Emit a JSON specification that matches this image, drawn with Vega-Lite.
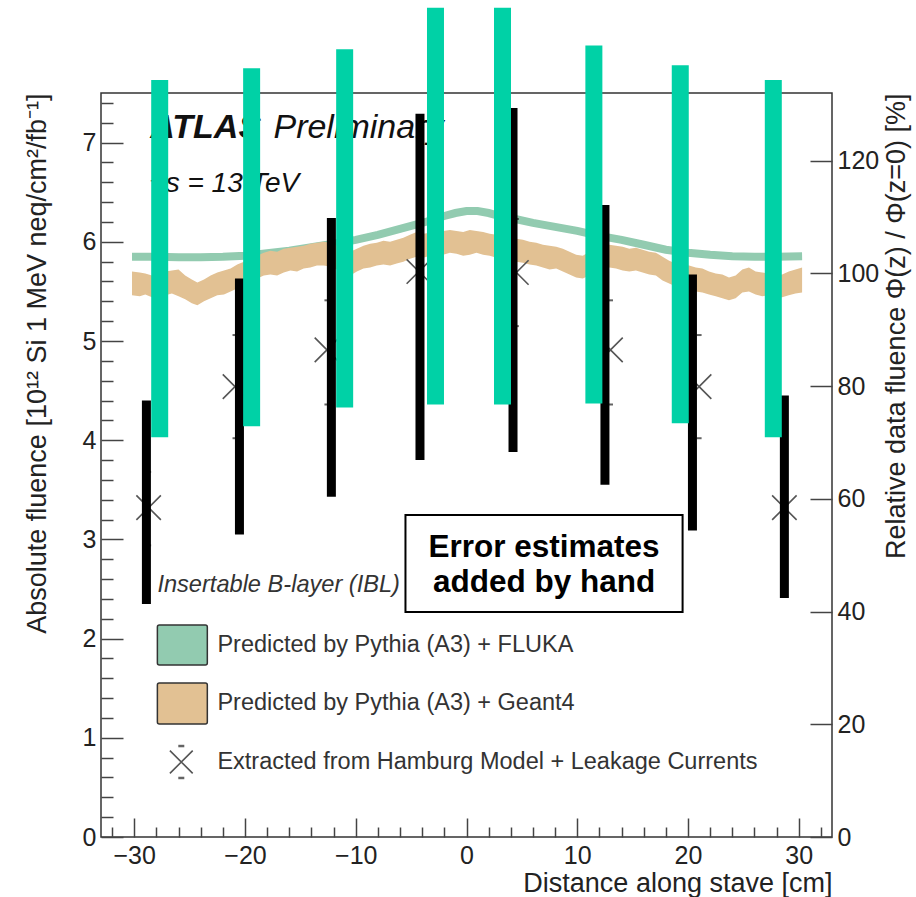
{
  "$schema": "https://vega.github.io/schema/vega-lite/v6.json",
  "width": 731,
  "height": 744,
  "autosize": {"type": "none"},
  "padding": {"left": 101, "top": 93, "right": 84, "bottom": 60},
  "background": "white",
  "config": {
    "view": {"stroke": "#333", "strokeWidth": 1.5},
    "font": "Liberation Sans",
    "axis": {"labelFont": "Liberation Sans", "titleFont": "Liberation Sans", "labelColor": "#222", "titleColor": "#222", "titleFontWeight": "normal", "grid": false, "domain": false, "tickColor": "#444", "tickWidth": 1.5, "labelOverlap": false, "labelFlush": false}
  },
  "datasets": {
    "fluka": [
      {"z": -30.2, "f": 5.85}, {"z": -28, "f": 5.85}, {"z": -26, "f": 5.845}, {"z": -24, "f": 5.845}, {"z": -22, "f": 5.85}, {"z": -20, "f": 5.86}, {"z": -18, "f": 5.885}, {"z": -16, "f": 5.91}, {"z": -14, "f": 5.945}, {"z": -12, "f": 5.98}, {"z": -10, "f": 6.02}, {"z": -8, "f": 6.07}, {"z": -6, "f": 6.13}, {"z": -4, "f": 6.19}, {"z": -2, "f": 6.26}, {"z": -1, "f": 6.29}, {"z": 0, "f": 6.31}, {"z": 1, "f": 6.31}, {"z": 2, "f": 6.29}, {"z": 3, "f": 6.26}, {"z": 4, "f": 6.24}, {"z": 6, "f": 6.19}, {"z": 8, "f": 6.15}, {"z": 10, "f": 6.11}, {"z": 12, "f": 6.06}, {"z": 14, "f": 6.02}, {"z": 16, "f": 5.97}, {"z": 18, "f": 5.92}, {"z": 20, "f": 5.89}, {"z": 22, "f": 5.87}, {"z": 24, "f": 5.855}, {"z": 26, "f": 5.85}, {"z": 28, "f": 5.85}, {"z": 30.3, "f": 5.855}
    ],
    "geant": [
      {"z": -30.2, "lo": 5.46, "hi": 5.70}, {"z": -29.5, "lo": 5.45, "hi": 5.69}, {"z": -29.0, "lo": 5.47, "hi": 5.68}, {"z": -28.4, "lo": 5.44, "hi": 5.66}, {"z": -27.8, "lo": 5.43, "hi": 5.67}, {"z": -27.2, "lo": 5.46, "hi": 5.70}, {"z": -26.6, "lo": 5.48, "hi": 5.71}, {"z": -26.0, "lo": 5.45, "hi": 5.72}, {"z": -25.4, "lo": 5.42, "hi": 5.66}, {"z": -24.8, "lo": 5.38, "hi": 5.62}, {"z": -24.3, "lo": 5.36, "hi": 5.59}, {"z": -23.7, "lo": 5.40, "hi": 5.62}, {"z": -23.1, "lo": 5.43, "hi": 5.66}, {"z": -22.5, "lo": 5.46, "hi": 5.69}, {"z": -21.9, "lo": 5.47, "hi": 5.71}, {"z": -21.3, "lo": 5.50, "hi": 5.73}, {"z": -20.7, "lo": 5.53, "hi": 5.77}, {"z": -20.1, "lo": 5.56, "hi": 5.80}, {"z": -19.5, "lo": 5.58, "hi": 5.83}, {"z": -18.9, "lo": 5.63, "hi": 5.86}, {"z": -18.3, "lo": 5.66, "hi": 5.89}, {"z": -17.7, "lo": 5.67, "hi": 5.91}, {"z": -17.1, "lo": 5.66, "hi": 5.90}, {"z": -16.5, "lo": 5.69, "hi": 5.93}, {"z": -15.9, "lo": 5.71, "hi": 5.94}, {"z": -15.3, "lo": 5.70, "hi": 5.95}, {"z": -14.7, "lo": 5.73, "hi": 5.96}, {"z": -14.1, "lo": 5.74, "hi": 5.98}, {"z": -13.5, "lo": 5.76, "hi": 5.99}, {"z": -12.9, "lo": 5.76, "hi": 6.00}, {"z": -12.3, "lo": 5.75, "hi": 5.99}, {"z": -11.7, "lo": 5.72, "hi": 5.96}, {"z": -11.1, "lo": 5.68, "hi": 5.92}, {"z": -10.5, "lo": 5.66, "hi": 5.90}, {"z": -9.9, "lo": 5.70, "hi": 5.93}, {"z": -9.3, "lo": 5.73, "hi": 5.96}, {"z": -8.7, "lo": 5.74, "hi": 5.98}, {"z": -8.1, "lo": 5.76, "hi": 5.99}, {"z": -7.5, "lo": 5.77, "hi": 6.01}, {"z": -6.9, "lo": 5.76, "hi": 6.00}, {"z": -6.3, "lo": 5.78, "hi": 6.02}, {"z": -5.7, "lo": 5.80, "hi": 6.04}, {"z": -5.1, "lo": 5.83, "hi": 6.07}, {"z": -4.5, "lo": 5.85, "hi": 6.10}, {"z": -3.9, "lo": 5.84, "hi": 6.08}, {"z": -3.3, "lo": 5.86, "hi": 6.09}, {"z": -2.7, "lo": 5.88, "hi": 6.10}, {"z": -2.1, "lo": 5.87, "hi": 6.11}, {"z": -1.5, "lo": 5.89, "hi": 6.12}, {"z": -0.9, "lo": 5.88, "hi": 6.11}, {"z": -0.3, "lo": 5.86, "hi": 6.10}, {"z": 0.3, "lo": 5.87, "hi": 6.12}, {"z": 0.9, "lo": 5.89, "hi": 6.11}, {"z": 1.5, "lo": 5.87, "hi": 6.10}, {"z": 2.1, "lo": 5.86, "hi": 6.08}, {"z": 2.7, "lo": 5.84, "hi": 6.07}, {"z": 3.3, "lo": 5.83, "hi": 6.07}, {"z": 3.9, "lo": 5.82, "hi": 6.05}, {"z": 4.5, "lo": 5.80, "hi": 6.03}, {"z": 5.1, "lo": 5.79, "hi": 6.02}, {"z": 5.7, "lo": 5.77, "hi": 6.00}, {"z": 6.3, "lo": 5.76, "hi": 5.99}, {"z": 6.9, "lo": 5.74, "hi": 5.97}, {"z": 7.5, "lo": 5.72, "hi": 5.96}, {"z": 8.1, "lo": 5.73, "hi": 5.95}, {"z": 8.7, "lo": 5.70, "hi": 5.93}, {"z": 9.3, "lo": 5.67, "hi": 5.90}, {"z": 9.9, "lo": 5.64, "hi": 5.87}, {"z": 10.5, "lo": 5.63, "hi": 5.86}, {"z": 11.1, "lo": 5.66, "hi": 5.90}, {"z": 11.7, "lo": 5.70, "hi": 5.93}, {"z": 12.3, "lo": 5.72, "hi": 5.95}, {"z": 12.9, "lo": 5.74, "hi": 5.97}, {"z": 13.5, "lo": 5.73, "hi": 5.96}, {"z": 14.1, "lo": 5.71, "hi": 5.95}, {"z": 14.7, "lo": 5.70, "hi": 5.93}, {"z": 15.3, "lo": 5.71, "hi": 5.94}, {"z": 15.9, "lo": 5.69, "hi": 5.92}, {"z": 16.5, "lo": 5.67, "hi": 5.90}, {"z": 17.1, "lo": 5.66, "hi": 5.89}, {"z": 17.7, "lo": 5.61, "hi": 5.85}, {"z": 18.3, "lo": 5.58, "hi": 5.81}, {"z": 18.9, "lo": 5.55, "hi": 5.78}, {"z": 19.5, "lo": 5.54, "hi": 5.77}, {"z": 20.1, "lo": 5.52, "hi": 5.76}, {"z": 20.7, "lo": 5.50, "hi": 5.74}, {"z": 21.3, "lo": 5.49, "hi": 5.73}, {"z": 21.9, "lo": 5.47, "hi": 5.70}, {"z": 22.5, "lo": 5.45, "hi": 5.68}, {"z": 23.1, "lo": 5.43, "hi": 5.67}, {"z": 23.7, "lo": 5.41, "hi": 5.64}, {"z": 24.3, "lo": 5.43, "hi": 5.66}, {"z": 24.9, "lo": 5.49, "hi": 5.72}, {"z": 25.5, "lo": 5.50, "hi": 5.74}, {"z": 26.1, "lo": 5.47, "hi": 5.70}, {"z": 26.7, "lo": 5.45, "hi": 5.69}, {"z": 27.3, "lo": 5.46, "hi": 5.68}, {"z": 27.9, "lo": 5.43, "hi": 5.66}, {"z": 28.5, "lo": 5.44, "hi": 5.67}, {"z": 29.1, "lo": 5.46, "hi": 5.70}, {"z": 29.7, "lo": 5.48, "hi": 5.72}, {"z": 30.3, "lo": 5.49, "hi": 5.74}
    ],
    "hamburg": [
      {"z": -28.7, "f": 3.32, "lo": 2.94, "hi": 3.68}, {"z": -20.9, "f": 4.54, "lo": 4.02, "hi": 5.06}, {"z": -12.6, "f": 4.91, "lo": 4.36, "hi": 5.41}, {"z": -4.3, "f": 5.70, "lo": 5.16, "hi": 6.24}, {"z": 4.5, "f": 5.69, "lo": 5.15, "hi": 6.23}, {"z": 13.0, "f": 4.91, "lo": 4.36, "hi": 5.41}, {"z": 21.0, "f": 4.54, "lo": 4.02, "hi": 5.06}, {"z": 28.7, "f": 3.32, "lo": 2.94, "hi": 3.70}
    ],
    "blackbars": [
      {"z": -28.9, "lo": 2.35, "hi": 4.40}, {"z": -20.5, "lo": 3.05, "hi": 5.63}, {"z": -12.2, "lo": 3.43, "hi": 6.24}, {"z": -4.2, "lo": 3.80, "hi": 7.29}, {"z": 4.2, "lo": 3.88, "hi": 7.35}, {"z": 12.5, "lo": 3.55, "hi": 6.37}, {"z": 20.4, "lo": 3.09, "hi": 5.67}, {"z": 28.7, "lo": 2.41, "hi": 4.45}
    ],
    "tealbars": [
      {"z": -27.7, "lo": 4.03, "hi": 7.63}, {"z": -19.4, "lo": 4.14, "hi": 7.75}, {"z": -11.0, "lo": 4.33, "hi": 7.94}, {"z": -2.8, "lo": 4.36, "hi": 8.36}, {"z": 3.25, "lo": 4.36, "hi": 8.36}, {"z": 11.5, "lo": 4.37, "hi": 7.98}, {"z": 19.3, "lo": 4.17, "hi": 7.78}, {"z": 27.7, "lo": 4.03, "hi": 7.63}
    ],
    "one": [{}]
  },
  "resolve": {"scale": {"y": "independent"}, "axis": {"x": "independent", "y": "independent"}},
  "layer": [
    {
      "data": {"name": "fluka"},
      "mark": {"type": "line", "color": "#92cbb0", "strokeWidth": 8, "strokeCap": "butt"},
      "encoding": {
        "x": {"field": "z", "type": "quantitative", "scale": {"domain": [-33, 33], "nice": false, "zero": false},
              "axis": {"orient": "bottom", "values": [-30, -20, -10, 0, 10, 20, 30], "ticks": false, "labelFontSize": 25, "labelPadding": 6, "title": "Distance along stave [cm]", "titleFontSize": 27, "titleAnchor": "end", "titlePadding": 2}},
        "y": {"field": "f", "type": "quantitative", "scale": {"domain": [0, 7.5], "nice": false, "zero": false},
              "axis": {"orient": "left", "values": [0, 1, 2, 3, 4, 5, 6, 7], "ticks": false, "labelFontSize": 25, "labelPadding": 5, "title": "Absolute fluence [10¹² Si 1 MeV neq/cm²/fb⁻¹]", "titleFontSize": 27, "titleAnchor": "end", "titlePadding": 31}}
      }
    },
    {
      "data": {"name": "geant"},
      "mark": {"type": "area", "color": "#e2c193"},
      "encoding": {
        "x": {"field": "z", "type": "quantitative", "scale": {"domain": [-33, 33], "nice": false, "zero": false},
              "axis": {"orient": "bottom", "values": [-30, -20, -10, 0, 10, 20, 30], "labels": false, "tickSize": -19, "title": null}},
        "y": {"field": "lo", "type": "quantitative", "scale": {"domain": [0, 7.5], "nice": false, "zero": false},
              "axis": {"orient": "left", "values": [0, 1, 2, 3, 4, 5, 6, 7], "labels": false, "tickSize": -22, "title": null}},
        "y2": {"field": "hi"}
      }
    },
    {
      "data": {"name": "one"},
      "mark": {"type": "text", "text": "ATLAS", "font": "Liberation Sans", "fontSize": 34, "fontWeight": "bold", "fontStyle": "italic", "align": "left", "baseline": "alphabetic", "color": "#111"},
      "encoding": {
        "x": {"datum": -28.55, "type": "quantitative", "scale": {"domain": [-33, 33], "nice": false, "zero": false}, "axis": null},
        "y": {"datum": 7.046, "type": "quantitative", "scale": {"domain": [0, 7.5], "nice": false, "zero": false}, "axis": null}
      }
    },
    {
      "data": {"name": "one"},
      "mark": {"type": "text", "text": "Preliminary", "font": "Liberation Sans", "fontSize": 34, "fontStyle": "italic", "align": "left", "baseline": "alphabetic", "color": "#111"},
      "encoding": {
        "x": {"datum": -17.43, "type": "quantitative", "scale": {"domain": [-33, 33], "nice": false, "zero": false}, "axis": null},
        "y": {"datum": 7.046, "type": "quantitative", "scale": {"domain": [0, 7.5], "nice": false, "zero": false}, "axis": null}
      }
    },
    {
      "data": {"name": "one"},
      "mark": {"type": "text", "text": "√s = 13 TeV", "font": "Liberation Sans", "fontSize": 28, "fontStyle": "italic", "align": "left", "baseline": "alphabetic", "color": "#111"},
      "encoding": {
        "x": {"datum": -28.55, "type": "quantitative", "scale": {"domain": [-33, 33], "nice": false, "zero": false}, "axis": null},
        "y": {"datum": 6.5, "type": "quantitative", "scale": {"domain": [0, 7.5], "nice": false, "zero": false}, "axis": null}
      }
    },
    {
      "data": {"name": "one"},
      "mark": {"type": "text", "text": "Insertable B-layer (IBL)", "font": "Liberation Sans", "fontSize": 23.6, "fontStyle": "italic", "align": "left", "baseline": "middle", "color": "#333"},
      "encoding": {
        "x": {"datum": -27.91, "type": "quantitative", "scale": {"domain": [-33, 33], "nice": false, "zero": false}, "axis": null},
        "y": {"datum": 2.54, "type": "quantitative", "scale": {"domain": [0, 7.5], "nice": false, "zero": false}, "axis": null}
      }
    },
    {
      "data": {"name": "hamburg"},
      "mark": {"type": "point", "shape": "M-1,-1L1,1M1,-1L-1,1", "size": 600, "filled": false, "stroke": "#555", "strokeWidth": 1.6, "opacity": 1},
      "encoding": {
        "x": {"field": "z", "type": "quantitative", "scale": {"domain": [-33, 33], "nice": false, "zero": false},
              "axis": {"orient": "bottom", "values": [-32, -28, -26, -24, -22, -18, -16, -14, -12, -8, -6, -4, -2, 2, 4, 6, 8, 12, 14, 16, 18, 22, 24, 26, 28, 32], "labels": false, "tickSize": -10, "title": null}},
        "y": {"field": "f", "type": "quantitative", "scale": {"domain": [0, 7.5], "nice": false, "zero": false},
              "axis": {"orient": "left", "values": [0.2, 0.4, 0.6, 0.8, 1.2, 1.4, 1.6, 1.8, 2.2, 2.4, 2.6, 2.8, 3.2, 3.4, 3.6, 3.8, 4.2, 4.4, 4.6, 4.8, 5.2, 5.4, 5.6, 5.8, 6.2, 6.4, 6.6, 6.8, 7.2, 7.4], "labels": false, "tickSize": -12, "title": null}}
      }
    },
    {
      "data": {"name": "hamburg"},
      "mark": {"type": "tick", "orient": "horizontal", "size": 5, "thickness": 2, "color": "#222"},
      "encoding": {
        "x": {"field": "z", "type": "quantitative", "scale": {"domain": [-33, 33], "nice": false, "zero": false}, "axis": null},
        "y": {"field": "lo", "type": "quantitative", "scale": {"domain": [0, 7.5], "nice": false, "zero": false}, "axis": null}
      }
    },
    {
      "data": {"name": "hamburg"},
      "mark": {"type": "tick", "orient": "horizontal", "size": 5, "thickness": 2, "color": "#222"},
      "encoding": {
        "x": {"field": "z", "type": "quantitative", "scale": {"domain": [-33, 33], "nice": false, "zero": false}, "axis": null},
        "y": {"field": "hi", "type": "quantitative", "scale": {"domain": [0, 7.5], "nice": false, "zero": false}, "axis": null}
      }
    },
    {
      "data": {"name": "blackbars"},
      "mark": {"type": "rule", "color": "#000", "strokeWidth": 9, "strokeCap": "butt"},
      "encoding": {
        "x": {"field": "z", "type": "quantitative", "scale": {"domain": [-33, 33], "nice": false, "zero": false}, "axis": null},
        "y": {"field": "lo", "type": "quantitative", "scale": {"domain": [0, 7.5], "nice": false, "zero": false}, "axis": null},
        "y2": {"field": "hi"}
      }
    },
    {
      "data": {"name": "tealbars"},
      "mark": {"type": "rule", "color": "#00d1a6", "strokeWidth": 17, "strokeCap": "butt"},
      "encoding": {
        "x": {"field": "z", "type": "quantitative", "scale": {"domain": [-33, 33], "nice": false, "zero": false}, "axis": null},
        "y": {"field": "lo", "type": "quantitative", "scale": {"domain": [0, 7.5], "nice": false, "zero": false}, "axis": null},
        "y2": {"field": "hi"}
      }
    },
    {
      "data": {"name": "one"},
      "mark": {"type": "point", "opacity": 0},
      "encoding": {
        "x": {"datum": 0, "type": "quantitative", "scale": {"domain": [-33, 33], "nice": false, "zero": false}, "axis": null},
        "y": {"datum": 100, "type": "quantitative", "scale": {"domain": [0, 132], "nice": false, "zero": false},
              "axis": {"orient": "right", "values": [0, 20, 40, 60, 80, 100, 120], "tickSize": -22, "labelPadding": 27, "labelFontSize": 25, "title": "Relative data fluence Φ(z) / Φ(z=0) [%]", "titleFontSize": 27, "titleAngle": 270, "titleAnchor": "end", "titleBaseline": "top", "titlePadding": 5}}
      }
    },
    {
      "data": {"name": "one"},
      "mark": {"type": "rect", "fill": "white", "stroke": "#000", "strokeWidth": 2},
      "encoding": {
        "x": {"datum": -5.51, "type": "quantitative", "scale": {"domain": [-33, 33], "nice": false, "zero": false}, "axis": null},
        "x2": {"datum": 19.51},
        "y": {"datum": 3.246, "type": "quantitative", "scale": {"domain": [0, 7.5], "nice": false, "zero": false}, "axis": null},
        "y2": {"datum": 2.268}
      }
    },
    {
      "data": {"name": "one"},
      "mark": {"type": "text", "text": "Error estimates", "font": "Liberation Sans", "fontSize": 31.5, "fontWeight": "bold", "align": "center", "baseline": "middle", "color": "#000"},
      "encoding": {
        "x": {"datum": 7.0, "type": "quantitative", "scale": {"domain": [-33, 33], "nice": false, "zero": false}, "axis": null},
        "y": {"datum": 2.913, "type": "quantitative", "scale": {"domain": [0, 7.5], "nice": false, "zero": false}, "axis": null}
      }
    },
    {
      "data": {"name": "one"},
      "mark": {"type": "text", "text": "added by hand", "font": "Liberation Sans", "fontSize": 31.5, "fontWeight": "bold", "align": "center", "baseline": "middle", "color": "#000"},
      "encoding": {
        "x": {"datum": 7.0, "type": "quantitative", "scale": {"domain": [-33, 33], "nice": false, "zero": false}, "axis": null},
        "y": {"datum": 2.56, "type": "quantitative", "scale": {"domain": [0, 7.5], "nice": false, "zero": false}, "axis": null}
      }
    },
    {
      "data": {"name": "one"},
      "mark": {"type": "rect", "fill": "#92cbb0", "stroke": "#333", "strokeWidth": 1.5, "cornerRadius": 2},
      "encoding": {
        "x": {"datum": -27.91, "type": "quantitative", "scale": {"domain": [-33, 33], "nice": false, "zero": false}, "axis": null},
        "x2": {"datum": -23.4},
        "y": {"datum": 2.137, "type": "quantitative", "scale": {"domain": [0, 7.5], "nice": false, "zero": false}, "axis": null},
        "y2": {"datum": 1.734}
      }
    },
    {
      "data": {"name": "one"},
      "mark": {"type": "rect", "fill": "#e2c193", "stroke": "#333", "strokeWidth": 1.5, "cornerRadius": 2},
      "encoding": {
        "x": {"datum": -27.91, "type": "quantitative", "scale": {"domain": [-33, 33], "nice": false, "zero": false}, "axis": null},
        "x2": {"datum": -23.4},
        "y": {"datum": 1.552, "type": "quantitative", "scale": {"domain": [0, 7.5], "nice": false, "zero": false}, "axis": null},
        "y2": {"datum": 1.139}
      }
    },
    {
      "data": {"name": "one"},
      "mark": {"type": "point", "shape": "M-1,-1L1,1M1,-1L-1,1", "size": 520, "filled": false, "stroke": "#555", "strokeWidth": 1.6, "opacity": 1},
      "encoding": {
        "x": {"datum": -25.75, "type": "quantitative", "scale": {"domain": [-33, 33], "nice": false, "zero": false}, "axis": null},
        "y": {"datum": 0.756, "type": "quantitative", "scale": {"domain": [0, 7.5], "nice": false, "zero": false}, "axis": null}
      }
    },
    {
      "data": {"name": "one"},
      "mark": {"type": "tick", "orient": "horizontal", "size": 6, "thickness": 2.5, "color": "#222"},
      "encoding": {
        "x": {"datum": -25.75, "type": "quantitative", "scale": {"domain": [-33, 33], "nice": false, "zero": false}, "axis": null},
        "y": {"datum": 0.917, "type": "quantitative", "scale": {"domain": [0, 7.5], "nice": false, "zero": false}, "axis": null}
      }
    },
    {
      "data": {"name": "one"},
      "mark": {"type": "tick", "orient": "horizontal", "size": 6, "thickness": 2.5, "color": "#222"},
      "encoding": {
        "x": {"datum": -25.75, "type": "quantitative", "scale": {"domain": [-33, 33], "nice": false, "zero": false}, "axis": null},
        "y": {"datum": 0.595, "type": "quantitative", "scale": {"domain": [0, 7.5], "nice": false, "zero": false}, "axis": null}
      }
    },
    {
      "data": {"name": "one"},
      "mark": {"type": "text", "text": "Predicted by Pythia (A3) + FLUKA", "font": "Liberation Sans", "fontSize": 23.5, "align": "left", "baseline": "middle", "color": "#333"},
      "encoding": {
        "x": {"datum": -22.49, "type": "quantitative", "scale": {"domain": [-33, 33], "nice": false, "zero": false}, "axis": null},
        "y": {"datum": 1.935, "type": "quantitative", "scale": {"domain": [0, 7.5], "nice": false, "zero": false}, "axis": null}
      }
    },
    {
      "data": {"name": "one"},
      "mark": {"type": "text", "text": "Predicted by Pythia (A3) + Geant4", "font": "Liberation Sans", "fontSize": 23.5, "align": "left", "baseline": "middle", "color": "#333"},
      "encoding": {
        "x": {"datum": -22.49, "type": "quantitative", "scale": {"domain": [-33, 33], "nice": false, "zero": false}, "axis": null},
        "y": {"datum": 1.351, "type": "quantitative", "scale": {"domain": [0, 7.5], "nice": false, "zero": false}, "axis": null}
      }
    },
    {
      "data": {"name": "one"},
      "mark": {"type": "text", "text": "Extracted from Hamburg Model + Leakage Currents", "font": "Liberation Sans", "fontSize": 23.5, "align": "left", "baseline": "middle", "color": "#333"},
      "encoding": {
        "x": {"datum": -22.49, "type": "quantitative", "scale": {"domain": [-33, 33], "nice": false, "zero": false}, "axis": null},
        "y": {"datum": 0.756, "type": "quantitative", "scale": {"domain": [0, 7.5], "nice": false, "zero": false}, "axis": null}
      }
    }
  ]
}
